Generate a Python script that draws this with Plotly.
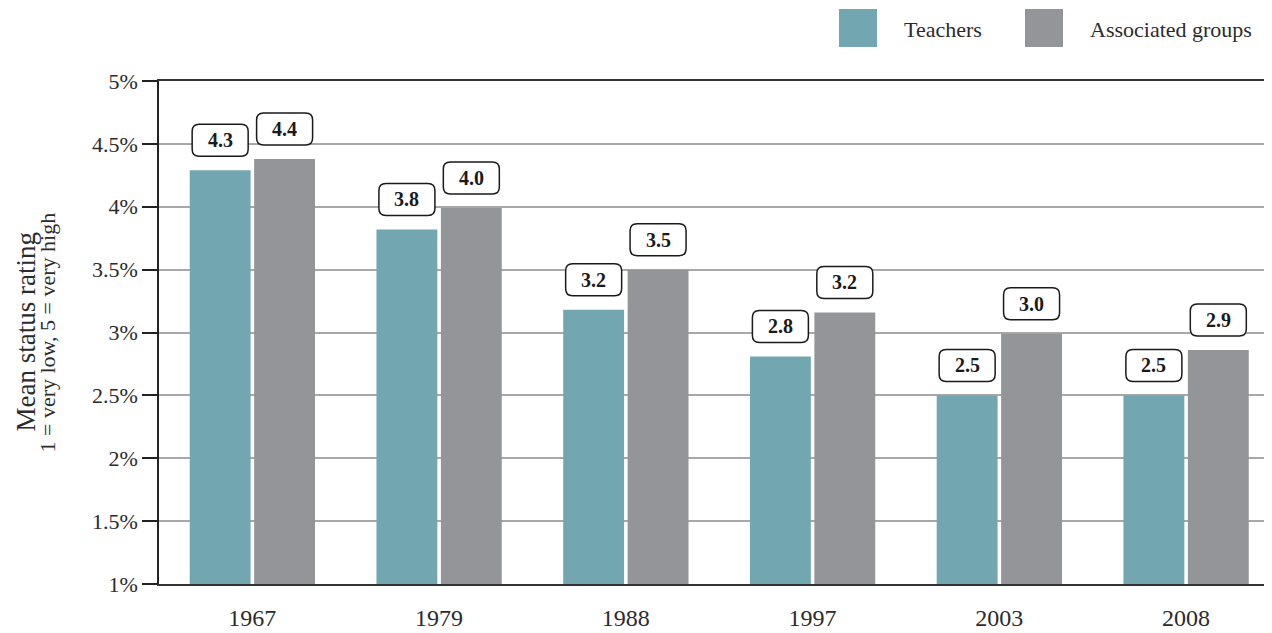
import plotly.graph_objects as go

years = ["1967", "1979", "1988", "1997", "2003", "2008"]
series_names = ["Teachers", "Associated groups"]
teachers = [4.29, 3.82, 3.18, 2.81, 2.50, 2.50]
associated = [4.38, 3.99, 3.50, 3.16, 2.99, 2.86]
y_ticks = [1, 1.5, 2, 2.5, 3, 3.5, 4, 4.5, 5]
y_tick_labels = ["1%", "1.5%", "2%", "2.5%", "3%", "3.5%", "4%", "4.5%", "5%"]
y_title = "Mean status rating"
y_subtitle = "1 = very low, 5 = very high"
colors = ["#72a7b1", "#949598"]

FONT = "Liberation Serif"
TXT = "#2b2b2b"
bargap = 0.31

# page body has an 8px margin; size the figure to fit the 1272x633 window
W, H = 1264, 625
ML, MT, MB = 151, 73, 49
PW = W - ML          # plot width in px
PH = H - MT - MB     # plot height in px

fig = go.Figure()
for name, vals, col in zip(series_names, [teachers, associated], colors):
    fig.add_trace(go.Bar(x=years, y=vals, name=name, marker=dict(color=col, line=dict(width=0)),
                         showlegend=False, hoverinfo="x+y"))

# value labels with rounded boxes
slot = (1 - bargap) / 2
shapes = []
annotations = []
for k, vals in enumerate([teachers, associated]):
    off = -slot / 2 if k == 0 else slot / 2
    for i, v in enumerate(vals):
        xa = i + off
        w, h, r, gap = 28, 16, 7, 14
        y0, y1 = gap, gap + 2 * h
        path = (f"M {-w + r},{y0} L {w - r},{y0} Q {w},{y0} {w},{y0 + r} "
                f"L {w},{y1 - r} Q {w},{y1} {w - r},{y1} L {-w + r},{y1} "
                f"Q {-w},{y1} {-w},{y1 - r} L {-w},{y0 + r} Q {-w},{y0} {-w + r},{y0} Z")
        shapes.append(dict(type="path", xref="x", yref="y", xsizemode="pixel", ysizemode="pixel",
                           xanchor=xa, yanchor=v, path=path, fillcolor="white",
                           line=dict(color="#1a1a1a", width=1.5), layer="above"))
        annotations.append(dict(x=xa, y=v, xref="x", yref="y", text=f"<b>{v:.1f}</b>",
                                showarrow=False, yshift=gap + h, yanchor="middle",
                                font=dict(family=FONT, size=20, color="#1a1a1a")))

# legend drawn manually (px positions measured from plot's top-left corner)
leg = [(680, 743), (866, 929)]
for (sx, tx), name, col in zip(leg, series_names, colors):
    shapes.append(dict(type="rect", xref="paper", yref="paper",
                       x0=sx / PW, x1=(sx + 38) / PW,
                       y0=1 + 34 / PH, y1=1 + 72 / PH,
                       fillcolor=col, line=dict(width=0)))
    annotations.append(dict(x=tx / PW, y=1 + 52 / PH, xref="paper", yref="paper",
                            text=name, showarrow=False, xanchor="left", yanchor="middle",
                            font=dict(family=FONT, size=22, color=TXT)))

# y-axis title as two rotated lines
annotations.append(dict(x=-134 / PW, y=0.5, xref="paper", yref="paper", text=y_title,
                        textangle=-90, showarrow=False, xanchor="center", yanchor="middle",
                        font=dict(family=FONT, size=27, color=TXT)))
annotations.append(dict(x=-112 / PW, y=0.5, xref="paper", yref="paper", text=y_subtitle,
                        textangle=-90, showarrow=False, xanchor="center", yanchor="middle",
                        font=dict(family=FONT, size=22, color=TXT)))

fig.update_layout(
    width=W, height=H,
    margin=dict(l=ML, r=0, t=MT, b=MB, pad=0, autoexpand=False),
    plot_bgcolor="white", paper_bgcolor="white",
    barmode="group", bargap=bargap, bargroupgap=0.055,
    font=dict(family=FONT, color=TXT),
    shapes=shapes, annotations=annotations,
    xaxis=dict(type="category", range=[-0.5, 5.46], showline=True, linecolor="#333", linewidth=2,
               mirror=True, ticks="", showgrid=False, ticklabelstandoff=11, automargin=False,
               tickfont=dict(family=FONT, size=24, color=TXT)),
    yaxis=dict(range=[1, 5], tickvals=y_ticks, ticktext=y_tick_labels, showgrid=True, automargin=False,
               gridcolor="#a8a8a8", gridwidth=1.5, showline=True, linecolor="#222", linewidth=1.5,
               ticks="outside", ticklen=15, tickcolor="#222", tickwidth=1.5, zeroline=False,
               tickfont=dict(family=FONT, size=22, color=TXT)),
)

fig.write_html("out.html")
